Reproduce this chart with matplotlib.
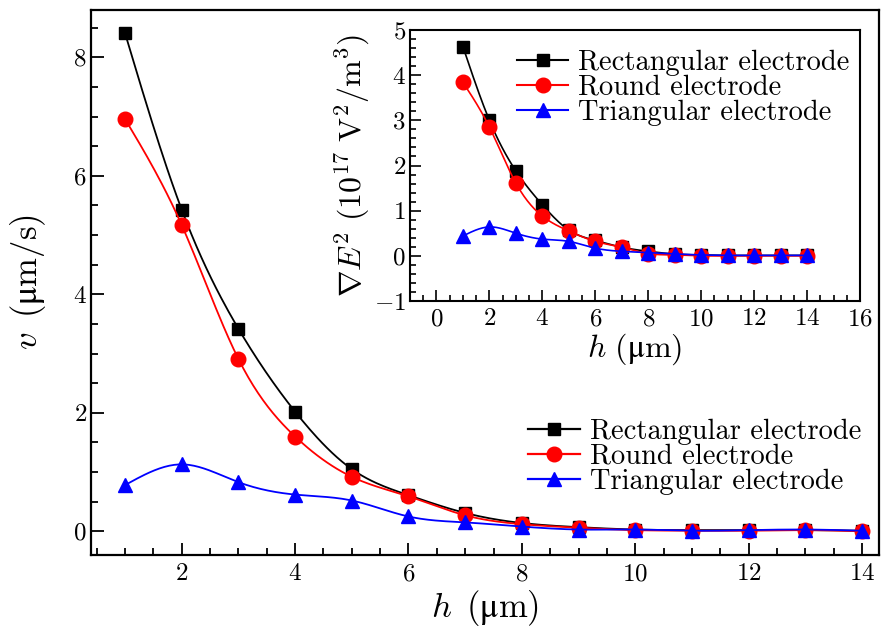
import numpy as np
import matplotlib
matplotlib.use("Agg")
import matplotlib.pyplot as plt
from matplotlib.ticker import MultipleLocator

plt.rcParams['font.family'] = ['cmr10', 'DejaVu Serif']
plt.rcParams['mathtext.fontset'] = 'cm'
plt.rcParams['axes.formatter.use_mathtext'] = True
plt.rcParams['axes.unicode_minus'] = True

h = [1, 2, 3, 4, 5, 6, 7, 8, 9, 10, 11, 12, 13, 14]

# main plot: velocity (um/s)
v_rect = [8.41, 5.43, 3.42, 2.02, 1.05, 0.61, 0.31, 0.14, 0.07, 0.03, 0.02, 0.02, 0.02, 0.01]
v_round = [6.96, 5.17, 2.91, 1.60, 0.92, 0.59, 0.27, 0.12, 0.06, 0.02, 0.01, 0.01, 0.02, 0.00]
v_tri = [0.78, 1.13, 0.83, 0.62, 0.52, 0.25, 0.15, 0.08, 0.03, 0.03, 0.01, 0.02, 0.03, 0.01]

# inset: grad E^2 (1e17 V^2/m^3)
e_rect = [4.63, 3.00, 1.88, 1.13, 0.57, 0.34, 0.19, 0.10, 0.04, 0.02, 0.01, 0.01, 0.01, 0.01]
e_round = [3.84, 2.85, 1.61, 0.88, 0.55, 0.32, 0.19, 0.05, 0.02, 0.00, 0.00, 0.00, 0.00, 0.00]
e_tri = [0.44, 0.64, 0.50, 0.37, 0.32, 0.17, 0.10, 0.07, 0.04, 0.02, 0.01, 0.01, 0.01, 0.01]

labels = ['Rectangular electrode', 'Round electrode', 'Triangular electrode']
colors = ['black', 'red', 'blue']
markers = ['s', 'o', '^']
msizes = [9, 10.5, 10.5]


def spline(xs, ys, n=300):
    # natural cubic spline, only for drawing the smooth line
    xs = np.asarray(xs, float)
    ys = np.asarray(ys, float)
    N = len(xs)
    hs = np.diff(xs)
    A = np.zeros((N, N))
    b = np.zeros(N)
    A[0, 0] = 1
    A[-1, -1] = 1
    for i in range(1, N - 1):
        A[i, i - 1] = hs[i - 1]
        A[i, i] = 2 * (hs[i - 1] + hs[i])
        A[i, i + 1] = hs[i]
        b[i] = 6 * ((ys[i + 1] - ys[i]) / hs[i] - (ys[i] - ys[i - 1]) / hs[i - 1])
    M = np.linalg.solve(A, b)
    xx = np.linspace(xs[0], xs[-1], n)
    idx = np.clip(np.searchsorted(xs, xx) - 1, 0, N - 2)
    x0, x1 = xs[idx], xs[idx + 1]
    hh = x1 - x0
    t0, t1 = x1 - xx, xx - x0
    yy = (M[idx] * t0**3 + M[idx + 1] * t1**3) / (6 * hh) \
        + (ys[idx] / hh - M[idx] * hh / 6) * t0 + (ys[idx + 1] / hh - M[idx + 1] * hh / 6) * t1
    return xx, yy


def draw(ax, series, lw):
    for ys, c, m, ms, lab in zip(series, colors, markers, msizes, labels):
        xx, yy = spline(h, ys)
        ax.plot(xx, yy, color=c, lw=lw)
        ax.plot(h, ys, color=c, marker=m, ms=ms, ls='none')
        ax.plot([], [], color=c, marker=m, ms=ms, lw=lw + 0.3, label=lab)


W, H = 892, 638
fig = plt.figure(figsize=(W / 100, H / 100), dpi=100)

# main axes: pixels left 91, right 879, top 10, bottom 555
ax = fig.add_axes([91 / W, (H - 555) / H, 788 / W, 545 / H])
draw(ax, [v_rect, v_round, v_tri], 1.3)
ax.set_xlim(0.4, 14.3)
ax.set_ylim(-0.4, 8.8)
ax.xaxis.set_major_locator(MultipleLocator(2))
ax.xaxis.set_minor_locator(MultipleLocator(0.5))
ax.yaxis.set_major_locator(MultipleLocator(2))
ax.yaxis.set_minor_locator(MultipleLocator(0.5))
ax.tick_params(which='both', direction='in', labelsize=18, width=1.3)
ax.tick_params(which='major', length=9)
ax.tick_params(which='minor', length=5)
ax.tick_params(axis='x', pad=6)
ax.tick_params(axis='y', pad=3)
for s in ax.spines.values():
    s.set_linewidth(1.6)
ax.set_xlabel(r'$h\ \,(\mathrm{μm})$', fontsize=25, labelpad=2)
ax.set_ylabel(r'$v\ \,(\mathrm{μm/s})$', fontsize=25, labelpad=18)
ax.legend(loc='upper left', bbox_to_anchor=(0.555, 0.25), frameon=False, fontsize=20.5,
          handlelength=1.8, handletextpad=0.35, labelspacing=-0.05, borderpad=0, borderaxespad=0)

# inset axes: pixels left 410, right 860, top 30, bottom 301
ins = fig.add_axes([410 / W, (H - 301) / H, 450 / W, 271 / H])
draw(ins, [e_rect, e_round, e_tri], 1.2)
ins.set_xlim(-1, 16)
ins.set_ylim(-1, 5)
ins.xaxis.set_major_locator(MultipleLocator(2))
ins.xaxis.set_minor_locator(MultipleLocator(0.5))
ins.yaxis.set_major_locator(MultipleLocator(1))
ins.yaxis.set_minor_locator(MultipleLocator(0.2))
ins.tick_params(which='both', direction='in', labelsize=18, width=1.2)
ins.tick_params(which='major', length=8)
ins.tick_params(which='minor', length=4)
ins.tick_params(axis='x', pad=5)
ins.tick_params(axis='y', pad=3)
for s in ins.spines.values():
    s.set_linewidth(1.5)
ins.set_xlabel(r'$h\ (\mathrm{μm})$', fontsize=23, labelpad=1)
ins.set_ylabel(r'$\nabla E^2\ (10^{17}\ \mathrm{V^2/m^3})$', fontsize=23, labelpad=1)
ins.legend(loc='upper left', bbox_to_anchor=(0.238, 0.928), frameon=False, fontsize=20.5,
           handlelength=1.8, handletextpad=0.35, labelspacing=-0.05, borderpad=0, borderaxespad=0)

fig.savefig('out.png', dpi=100)
